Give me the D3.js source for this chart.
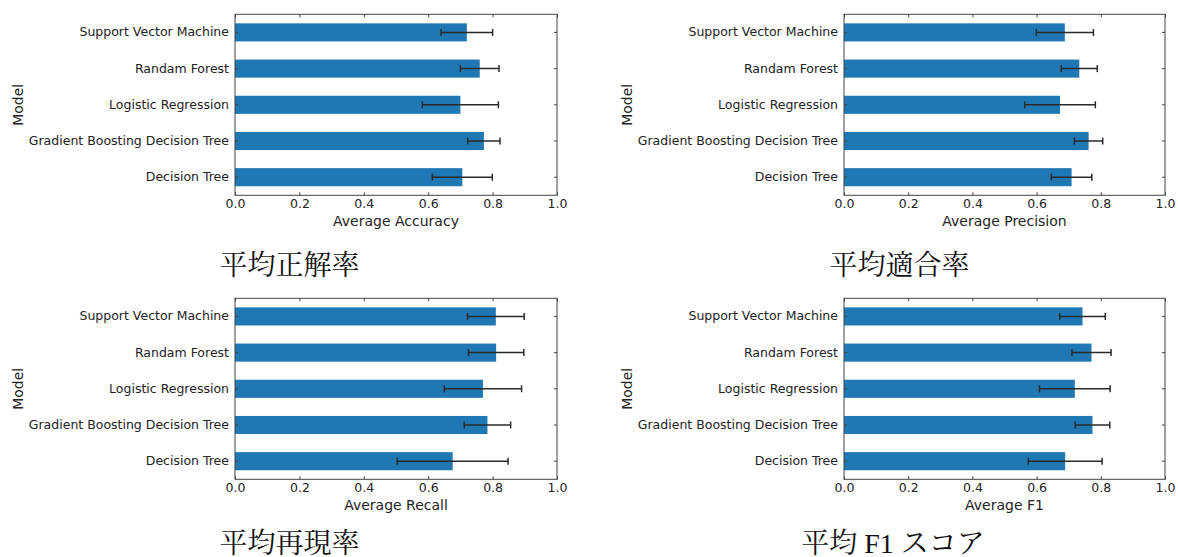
<!DOCTYPE html>
<html>
<head>
<meta charset="utf-8">
<script src="https://cdn.jsdelivr.net/npm/d3@7"></script>
<style>
  html, body { margin: 0; padding: 0; background: #fff; }
  svg { display: block; }
</style>
</head>
<body>
<svg id="chart" width="1178" height="557"></svg>
<script>
// Models, listed bottom-to-top as in the bar charts
const models = ["Decision Tree", "Gradient Boosting Decision Tree", "Logistic Regression", "Randam Forest", "Support Vector Machine"];

// Mean scores and their standard deviations (same model order)
const accuracyMean  = [0.706, 0.773, 0.700, 0.760, 0.720];
const accuracyErr   = [0.093, 0.050, 0.118, 0.060, 0.080];
const precisionMean = [0.709, 0.762, 0.673, 0.733, 0.688];
const precisionErr  = [0.063, 0.044, 0.110, 0.056, 0.089];
const recallMean    = [0.676, 0.784, 0.770, 0.811, 0.810];
const recallErr     = [0.172, 0.072, 0.120, 0.086, 0.088];
const f1Mean        = [0.689, 0.774, 0.719, 0.771, 0.743];
const f1Err         = [0.115, 0.054, 0.110, 0.061, 0.071];

const xTicks = [0, 0.2, 0.4, 0.6, 0.8, 1.0];

const xLabels  = ["Average Accuracy", "Average Precision", "Average Recall", "Average F1"];
const captions = ["平均正解率", "平均適合率", "平均再現率", "平均 F1 スコア"];

// Panel frames (plot-area rectangles and caption anchors)
const frames = [
  { left: 235, top: 14.3,  width: 322, height: 181, capX: 289.5, capY: 275 },
  { left: 844, top: 14.3,  width: 321, height: 181, capX: 899.5, capY: 275 },
  { left: 235, top: 298.3, width: 322, height: 181, capX: 289.5, capY: 553 },
  { left: 844, top: 298.3, width: 321, height: 181, capX: 893,   capY: 553 }
];

const panels = [
  { mean: accuracyMean,  err: accuracyErr },
  { mean: precisionMean, err: precisionErr },
  { mean: recallMean,    err: recallErr },
  { mean: f1Mean,        err: f1Err }
].map((p, i) => Object.assign(p, { xLabel: xLabels[i], caption: captions[i], frame: frames[i] }));

const svg = d3.select("#chart");
const textColor = "#222";
const spineColor = "#444";
const barColor = "#1f77b4";
const tickFont = "'DejaVu Sans', sans-serif";

panels.forEach(p => {
  const f = p.frame;
  const g = svg.append("g").attr("transform", `translate(${f.left},${f.top})`);

  const x = d3.scaleLinear().domain([0, 1]).range([0, f.width]);
  const order = models.slice().reverse(); // top-to-bottom
  const y = d3.scaleBand().domain(order).range([0, f.height]).paddingInner(0.5).paddingOuter(0.25);

  const rows = models.map((m, i) => ({ model: m, mean: p.mean[i], err: p.err[i] }));

  // bars
  g.selectAll("rect.bar").data(rows).join("rect")
    .attr("class", "bar")
    .attr("x", x(0))
    .attr("y", d => y(d.model))
    .attr("width", d => x(d.mean) - x(0))
    .attr("height", y.bandwidth())
    .attr("fill", barColor);

  // error bars
  const eb = g.selectAll("g.err").data(rows).join("g").attr("class", "err")
    .attr("transform", d => `translate(0,${y(d.model) + y.bandwidth() / 2})`);
  eb.append("line")
    .attr("x1", d => x(d.mean - d.err)).attr("x2", d => x(d.mean + d.err))
    .attr("stroke", "#2a2a2a").attr("stroke-width", 1.5);
  [-1, 1].forEach(s => {
    eb.append("line")
      .attr("x1", d => x(d.mean + s * d.err)).attr("x2", d => x(d.mean + s * d.err))
      .attr("y1", -3.5).attr("y2", 3.5)
      .attr("stroke", "#2a2a2a").attr("stroke-width", 1.5);
  });

  // axes with inward ticks on all four sides
  const bottom = d3.axisBottom(x).tickValues(xTicks).tickFormat(d3.format(".1f")).tickSizeInner(-3).tickSizeOuter(0).tickPadding(6);
  const top = d3.axisTop(x).tickValues(xTicks).tickFormat("").tickSizeInner(-3).tickSizeOuter(0);
  const left = d3.axisLeft(y).tickSizeInner(-3).tickSizeOuter(0).tickPadding(6);
  const right = d3.axisRight(y).tickFormat("").tickSizeInner(-3).tickSizeOuter(0);

  const styleAxis = sel => {
    sel.select(".domain").remove();
    sel.selectAll(".tick line").attr("stroke", spineColor).attr("stroke-width", 1);
    sel.selectAll(".tick text").attr("fill", textColor).style("font-family", tickFont).style("font-size", "12.5px");
  };

  g.append("g").attr("transform", `translate(0,${f.height})`).call(bottom).call(styleAxis)
    .selectAll(".tick text").attr("dy", "0.71em").attr("y", 4);
  g.append("g").call(top).call(styleAxis);
  g.append("g").call(left).call(styleAxis);
  g.append("g").attr("transform", `translate(${f.width},0)`).call(right).call(styleAxis);

  // frame
  g.append("rect")
    .attr("x", 0).attr("y", 0).attr("width", f.width).attr("height", f.height)
    .attr("fill", "none").attr("stroke", spineColor).attr("stroke-width", 1);

  // axis titles
  g.append("text")
    .attr("x", f.width / 2).attr("y", f.height + 30.5)
    .attr("text-anchor", "middle")
    .attr("fill", textColor)
    .style("font-family", tickFont).style("font-size", "14px")
    .text(p.xLabel);

  g.append("text")
    .attr("transform", `translate(-212.5,${f.height / 2}) rotate(-90)`)
    .attr("text-anchor", "middle")
    .attr("fill", textColor)
    .style("font-family", tickFont).style("font-size", "14px")
    .text("Model");

  // caption under the panel
  svg.append("text")
    .attr("x", f.capX).attr("y", f.capY)
    .attr("text-anchor", "middle")
    .attr("fill", "#111")
    .style("font-family", "'Liberation Serif', 'Noto Serif CJK JP', 'Noto Sans CJK JP', serif")
    .style("font-size", "28px")
    .text(p.caption);
});
</script>
</body>
</html>
